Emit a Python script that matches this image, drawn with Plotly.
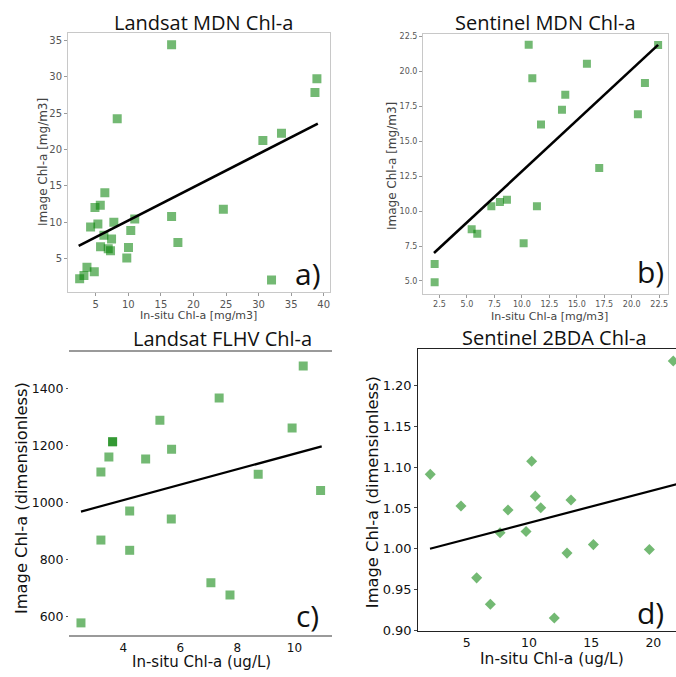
import plotly.graph_objects as go

W, H = 676, 677

# ---------------- data ----------------
# a) Landsat MDN Chl-a
a_x = [16.64, 38.96, 38.66, 8.29, 30.66, 33.52, 6.39, 5.69, 4.87, 24.59, 16.64, 10.98, 7.77, 5.32,
       4.2, 10.37, 6.24, 7.42, 17.61, 5.73, 10.02, 6.91, 7.26, 9.76, 3.64, 4.77, 3.18, 2.52, 31.99]
a_y = [34.37, 29.7, 27.84, 24.22, 21.23, 22.22, 14.07, 12.34, 12.03, 11.8, 10.8, 10.44, 9.99, 9.76,
       9.35, 8.86, 8.22, 7.72, 7.23, 6.63, 6.55, 6.36, 6.09, 5.1, 3.83, 3.19, 2.69, 2.24, 2.06]
a_fit_x = [2.37, 39.1]
a_fit_y = [6.77, 23.54]

# b) Sentinel MDN Chl-a
b_x = [10.62, 22.4, 15.92, 10.95, 21.2, 13.95, 13.65, 11.74, 20.56, 17.04, 8.64, 8.0, 7.22, 11.37,
       5.43, 5.94, 10.16, 2.06, 2.06]
b_y = [21.91, 21.89, 20.55, 19.51, 19.18, 18.33, 17.25, 16.21, 16.94, 13.08, 10.82, 10.66, 10.34, 10.34,
       8.7, 8.37, 7.69, 6.22, 4.9]
b_fit_x = [2.0, 22.4]
b_fit_y = [7.0, 21.9]

# c) Landsat FLHV Chl-a
c_x = [10.31, 7.36, 5.28, 9.92, 3.62, 3.62, 3.49, 5.69, 4.78, 3.21, 8.73, 10.92, 4.22, 5.68, 3.21,
       4.22, 7.07, 7.74, 2.51]
c_y = [1480, 1367, 1289, 1262, 1213, 1213, 1160, 1187, 1153, 1107, 1099, 1042, 970, 942, 868,
       832, 718, 675, 577]
c_fit_x = [2.51, 10.96]
c_fit_y = [968, 1197]

# d) Sentinel 2BDA Chl-a
d_x = [21.6, 2.07, 10.22, 4.54, 10.51, 8.32, 10.95, 13.38, 7.68, 9.77, 15.18, 13.06, 19.68, 5.8,
       6.9, 12.04]
d_y = [1.2303, 1.0912, 1.1073, 1.0524, 1.0645, 1.0475, 1.0503, 1.0597, 1.0196, 1.0212, 1.005,
       0.9946, 0.999, 0.9642, 0.9319, 0.915]
d_fit_x = [2.05, 22.1]
d_fit_y = [1.0, 1.080]

titles = ["Landsat MDN Chl-a", "Sentinel MDN Chl-a", "Landsat FLHV Chl-a", "Sentinel 2BDA Chl-a"]
panel_labels = ["a)", "b)", "c)", "d)"]
x_titles = ["In-situ Chl-a [mg/m3]", "In-situ Chl-a [mg/m3]", "In-situ Chl-a (ug/L)", "In-situ Chl-a (ug/L)"]
y_titles = ["Image Chl-a [mg/m3]", "Image Chl-a [mg/m3]", "Image Chl-a (dimensionless)", "Image Chl-a (dimensionless)"]


def px(x):
    return x / W


def py(y):
    return 1 - y / H


GREEN = "rgba(0,128,0,0.55)"

fig = go.Figure()

series = [
    (a_x, a_y, a_fit_x, a_fit_y, "square", 9, 2.6, "x", "y"),
    (b_x, b_y, b_fit_x, b_fit_y, "square", 8, 2.6, "x2", "y2"),
    (c_x, c_y, c_fit_x, c_fit_y, "square", 9, 2.2, "x3", "y3"),
    (d_x, d_y, d_fit_x, d_fit_y, "diamond", 8.5, 2.2, "x4", "y4"),
]
for sx, sy, fx, fy, sym, size, lw, xa, ya in series:
    fig.add_trace(go.Scatter(x=sx, y=sy, mode="markers", xaxis=xa, yaxis=ya,
                             marker=dict(symbol=sym, size=size, color=GREEN, line=dict(width=0)),
                             showlegend=False, hoverinfo="skip"))
    fig.add_trace(go.Scatter(x=fx, y=fy, mode="lines", xaxis=xa, yaxis=ya,
                             line=dict(color="black", width=lw), showlegend=False, hoverinfo="skip"))

small_font = dict(family="DejaVu Sans", size=10, color="#555555")
tiny_font = dict(family="DejaVu Sans", size=8, color="#555555")
big_font = dict(family="DejaVu Sans", size=12.5, color="#111111")
big_font_x = dict(family="DejaVu Sans", size=12, color="#111111")
big_font_d = dict(family="DejaVu Sans", size=13, color="#111111")
big_font_dx = dict(family="DejaVu Sans", size=12.5, color="#111111")

box = dict(showline=True, mirror=True, linecolor="#c8c8c8", linewidth=1, showgrid=False, zeroline=False,
           ticks="outside", ticklen=3, tickcolor="#9a9a9a")

fig.update_layout(
    width=W, height=H, margin=dict(l=0, r=0, t=0, b=0),
    paper_bgcolor="white", plot_bgcolor="white",
    xaxis=dict(domain=[px(68), px(330)], range=[0.73, 40.97], tickvals=[5, 10, 15, 20, 25, 30, 35, 40],
               tickfont=small_font, anchor="y", **box),
    yaxis=dict(domain=[py(294), py(32)], range=[0.49, 36.05], tickvals=[5, 10, 15, 20, 25, 30, 35],
               tickfont=small_font, anchor="x", **box),
    xaxis2=dict(domain=[px(423), px(668)], range=[1.0, 23.3],
                tickvals=[2.5, 5, 7.5, 10, 12.5, 15, 17.5, 20, 22.5], tickformat=".1f",
                tickfont=tiny_font, anchor="y2", **box),
    yaxis2=dict(domain=[py(296), py(33)], range=[4.1, 22.71],
                tickvals=[5, 7.5, 10, 12.5, 15, 17.5, 20, 22.5], tickformat=".1f",
                tickfont=tiny_font, anchor="x2", **box),
    xaxis3=dict(domain=[px(69), px(332)], range=[2.09, 11.32], tickvals=[4, 6, 8, 10],
                showline=True, mirror=True, linecolor="#9a9a9a", linewidth=2, showgrid=False,
                zeroline=False, ticks="", tickfont=big_font_x, anchor="y3"),
    yaxis3=dict(domain=[py(641.7), py(355.7)], range=[534, 1527], tickvals=[600, 800, 1000, 1200, 1400],
                showline=False, showgrid=False, zeroline=False, ticks="outside", ticklen=2,
                tickcolor="#555555", tickfont=big_font, anchor="x3"),
    xaxis4=dict(domain=[px(418.3), 1.0], range=[1.11, 21.82], tickvals=[5, 10, 15, 20],
                showline=True, mirror=True, linecolor="#222222", linewidth=1.2, showgrid=False,
                zeroline=False, ticks="", tickfont=big_font_dx, anchor="y4"),
    yaxis4=dict(domain=[py(637.3), py(351.7)], range=[0.8993, 1.2456],
                tickvals=[0.90, 0.95, 1.00, 1.05, 1.10, 1.15, 1.20], tickformat=".2f",
                showline=True, mirror=False, linecolor="#222222", linewidth=1.2, showgrid=False,
                zeroline=False, ticks="outside", ticklen=3, tickcolor="#444444",
                tickfont=big_font_d, anchor="x4"),
)

ann = []
title_pos = [(203, 22), (545, 22), (222, 342), (554, 341)]
for t, (x, y) in zip(titles, title_pos):
    ann.append(dict(text=t, x=px(x), y=py(y), xref="paper", yref="paper", showarrow=False,
                    xanchor="center", yanchor="middle",
                    font=dict(family="Open Sans", size=20, color="#111111")))

lab_pos = [(308, 276), (650, 274), (307, 622), (650, 619)]
for t, (x, y) in zip(panel_labels, lab_pos):
    ann.append(dict(text=t, x=px(x), y=py(y), xref="paper", yref="paper", showarrow=False,
                    xanchor="center", yanchor="middle",
                    font=dict(family="Open Sans", size=30, color="#111111")))

xt_pos = [(198, 318, 11, "#444444"), (549, 319, 11, "#444444"), (201, 669, 15, "#111111"), (552, 666, 15.5, "#111111")]
for t, (x, y, s, c) in zip(x_titles, xt_pos):
    ann.append(dict(text=t, x=px(x), y=py(y), xref="paper", yref="paper", showarrow=False,
                    xanchor="center", yanchor="middle",
                    font=dict(family="DejaVu Sans", size=s, color=c)))

yt_pos = [(43, 163, 12, "#444444"), (392, 167, 12, "#444444"), (21, 503, 16.3, "#111111"), (372, 497, 16.3, "#111111")]
for t, (x, y, s, c) in zip(y_titles, yt_pos):
    ann.append(dict(text=t, x=px(x), y=py(y), xref="paper", yref="paper", showarrow=False,
                    xanchor="center", yanchor="middle", textangle=-90,
                    font=dict(family="DejaVu Sans", size=s, color=c)))

fig.update_layout(annotations=ann)

fig.write_html("out.html", config={"displayModeBar": False},
               post_script="document.body.style.margin='0';")
